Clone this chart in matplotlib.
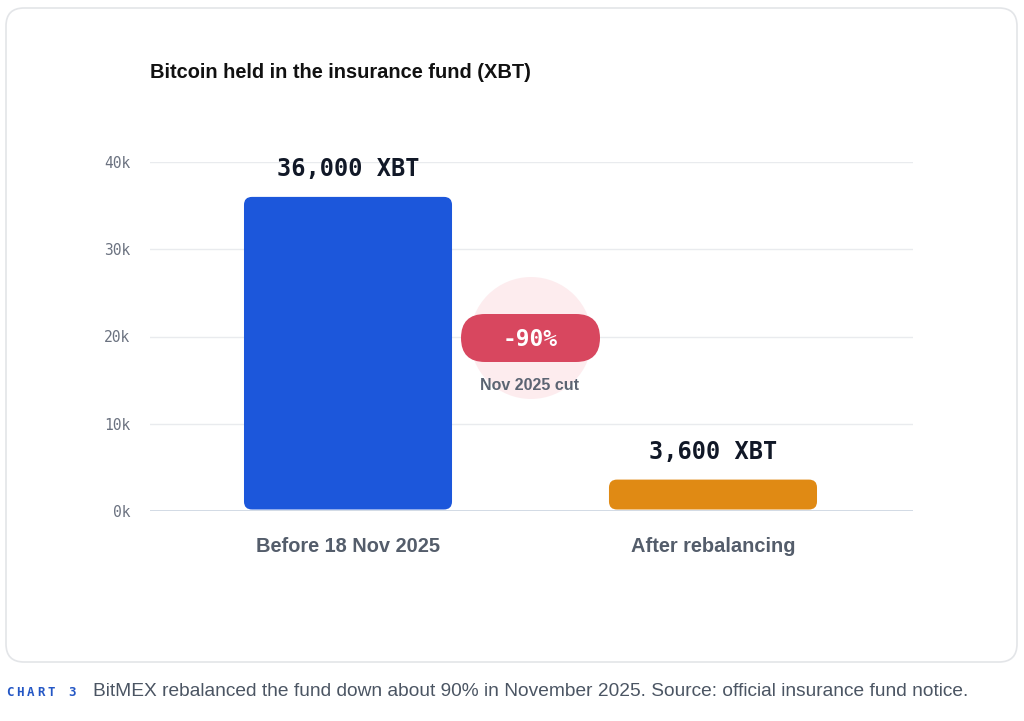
import matplotlib
matplotlib.use("Agg")
import matplotlib.pyplot as plt
from matplotlib.patches import FancyBboxPatch, Ellipse
from matplotlib.transforms import IdentityTransform

categories = ["Before 18 Nov 2025", "After rebalancing"]
values = [36000, 3600]
value_labels = ["36,000 XBT", "3,600 XBT"]
bar_colors = ["#1c57db", "#e08a14"]
yticks = [0, 10000, 20000, 30000, 40000]
ytick_labels = ["0k", "10k", "20k", "30k", "40k"]
title = "Bitcoin held in the insurance fund (XBT)"
badge_text = "-90%"
badge_sub = "Nov 2025 cut"
caption_tag = "CHART 3"
caption = "BitMEX rebalanced the fund down about 90% in November 2025. Source: official insurance fund notice."

W, H = 1024, 721
fig = plt.figure(figsize=(W / 100, H / 100), dpi=100)
fig.patch.set_facecolor("white")

def px(x, y):
    return x / W, 1 - y / H

# card
card = FancyBboxPatch((6, H - 662), 1011, 654, boxstyle="round,pad=0,rounding_size=18",
                      transform=IdentityTransform(), facecolor="white",
                      edgecolor="#e3e5e8", linewidth=1.2, zorder=0)
fig.add_artist(card)

left, right = 150, 913
top, bottom = 162, 511
ax = fig.add_axes([left / W, (H - bottom) / H, (right - left) / W, (bottom - top) / H])
ax.set_facecolor("none")
ax.set_ylim(0, 40000)
ax.set_xlim(-0.5425, 1.548)

ax.set_yticks(yticks)
ax.set_yticklabels(ytick_labels, family="DejaVu Sans Mono", fontsize=10.5, color="#6b7280")
ax.tick_params(axis="y", length=0, pad=14)
ax.set_xticks(range(len(categories)))
ax.set_xticklabels(categories, family="Liberation Sans", fontweight="bold", fontsize=14.4, color="#545d6b")
ax.tick_params(axis="x", length=0, pad=18.5)
for s in ax.spines.values():
    s.set_visible(False)
ax.yaxis.grid(True, color="#e9ebee", linewidth=1)
ax.set_axisbelow(True)
ax.axhline(0, color="#cfd8e3", linewidth=2, zorder=1)

bars = ax.bar(range(len(categories)), values, width=0.57, color=bar_colors)
fig.canvas.draw()
x_per_px = (ax.get_xlim()[1] - ax.get_xlim()[0]) / (right - left)
y_per_px = (ax.get_ylim()[1] - ax.get_ylim()[0]) / (bottom - top)
r_px = 8
for b, c in zip(bars, bar_colors):
    x0, y0, w, h = b.get_x(), b.get_y(), b.get_width(), b.get_height()
    b.set_visible(False)
    gap = 1.5 * y_per_px
    patch = FancyBboxPatch((x0, y0 + gap), w, h - gap,
                           boxstyle=f"round,pad=0,rounding_size={r_px * x_per_px}",
                           mutation_aspect=y_per_px / x_per_px,
                           facecolor=c, edgecolor="none", zorder=3)
    ax.add_patch(patch)

for i, (v, lab) in enumerate(zip(values, value_labels)):
    ax.annotate(lab, (i, v), xytext=(0, 11.5), textcoords="offset points",
                ha="center", va="bottom", family="DejaVu Sans Mono", fontweight="bold",
                fontsize=17, color="#111827", clip_on=False)

# badge
cx, cy = 531, 338
fig.add_artist(Ellipse(px(cx, cy), 122 / W, 122 / H, transform=fig.transFigure,
                       facecolor="#fde9ec", edgecolor="none", alpha=0.85, zorder=2))
fig.add_artist(FancyBboxPatch((461, H - 362), 139, 48, boxstyle="round,pad=0,rounding_size=24",
                              transform=IdentityTransform(), facecolor="#d8475f",
                              edgecolor="none", zorder=4))
fig.text(*px(530, 339), badge_text, ha="center", va="center", family="DejaVu Sans Mono",
         fontweight="bold", fontsize=16.5, color="white", zorder=5)
fig.text(*px(530, 386), badge_sub, ha="center", va="center", family="Liberation Sans",
         fontweight="bold", fontsize=11.5, color="#5b6472", zorder=5)

fig.text(*px(150, 73), title, ha="left", va="center", family="Liberation Sans",
         fontweight="bold", fontsize=14.4, color="#111111")

# letter-spaced caption tag
for k, ch in enumerate(caption_tag):
    fig.text(*px(6 + k * 10.4, 692), ch, ha="left", va="center", family="DejaVu Sans Mono",
             fontweight="bold", fontsize=9, color="#2457c5")
fig.text(*px(93, 691), caption, ha="left", va="center", family="Liberation Sans",
         fontsize=13.8, color="#4b5563")

fig.savefig("out.png", dpi=100, facecolor="white")
